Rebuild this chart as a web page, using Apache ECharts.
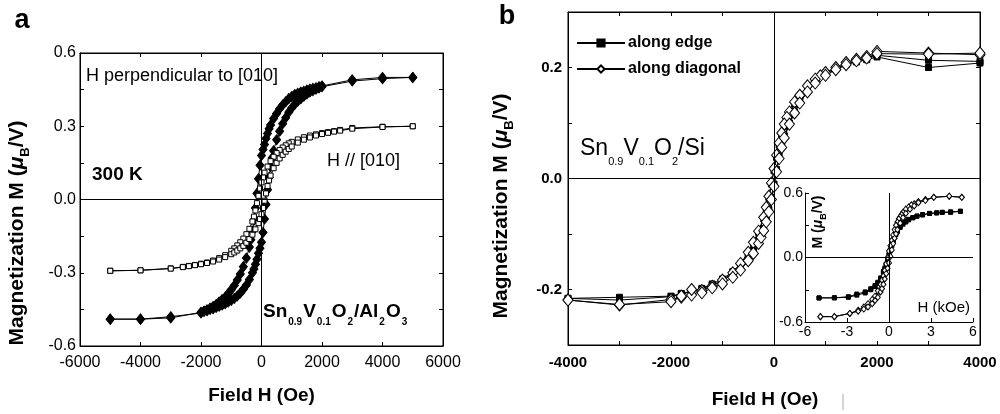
<!DOCTYPE html>
<html>
<head>
<meta charset="utf-8">
<script src="https://cdn.jsdelivr.net/npm/echarts@6/dist/echarts.min.js"></script>
<style>
html,body{margin:0;padding:0;background:#fff}
#chart{width:1000px;height:414px}
</style>
</head>
<body>
<div id="chart"></div>
<script>
// ---------- Panel a: Sn0.9V0.1O2/Al2O3, 300 K (H in Oe, M in muB/V) ----------
// H perpendicular to [010], field sweep down then up
const perpDown = [[5000,0.50],[4000,0.50],[3000,0.49],[2000,0.465],[1900,0.462],[1800,0.458],[1700,0.455],[1600,0.452],[1500,0.448],[1400,0.443],[1300,0.44],[1200,0.435],[1100,0.43],[1000,0.422],[900,0.413],[800,0.40],[700,0.387],[600,0.372],[500,0.352],[400,0.332],[300,0.305],[250,0.29],[200,0.27],[150,0.25],[100,0.225],[50,0.205],[0,0.18],[-50,0.14],[-100,0.085],[-150,0.025],[-200,-0.035],[-250,-0.085],[-300,-0.13],[-350,-0.165],[-400,-0.195],[-500,-0.24],[-600,-0.275],[-700,-0.305],[-800,-0.33],[-900,-0.352],[-1000,-0.37],[-1100,-0.385],[-1200,-0.40],[-1300,-0.41],[-1400,-0.42],[-1500,-0.43],[-1600,-0.438],[-1700,-0.445],[-1800,-0.452],[-1900,-0.458],[-2000,-0.465],[-3000,-0.48],[-4000,-0.49],[-5000,-0.49]];
const perpUp = [[-5000,-0.49],[-4000,-0.49],[-3000,-0.485],[-2000,-0.462],[-1900,-0.458],[-1800,-0.455],[-1700,-0.45],[-1600,-0.447],[-1500,-0.442],[-1400,-0.437],[-1300,-0.432],[-1200,-0.427],[-1100,-0.42],[-1000,-0.413],[-900,-0.405],[-800,-0.395],[-700,-0.383],[-600,-0.368],[-500,-0.35],[-400,-0.328],[-300,-0.30],[-250,-0.285],[-200,-0.265],[-150,-0.245],[-100,-0.22],[-50,-0.2],[0,-0.175],[50,-0.135],[100,-0.08],[150,-0.02],[200,0.04],[250,0.09],[300,0.135],[350,0.17],[400,0.20],[500,0.245],[600,0.28],[700,0.31],[800,0.335],[900,0.357],[1000,0.375],[1100,0.39],[1200,0.403],[1300,0.413],[1400,0.423],[1500,0.432],[1600,0.44],[1700,0.446],[1800,0.452],[1900,0.457],[2000,0.462],[3000,0.485],[4000,0.495],[5000,0.50]];
// H // [010]
const paraDown = [[5000,0.30],[4000,0.298],[3000,0.293],[2600,0.285],[2400,0.28],[2200,0.276],[2000,0.272],[1800,0.267],[1600,0.262],[1400,0.255],[1200,0.246],[1000,0.236],[900,0.23],[800,0.222],[700,0.213],[600,0.203],[500,0.19],[400,0.175],[300,0.157],[200,0.135],[100,0.11],[50,0.09],[0,0.07],[-50,0.045],[-100,0.015],[-150,-0.015],[-200,-0.045],[-250,-0.07],[-300,-0.09],[-400,-0.12],[-500,-0.142],[-600,-0.16],[-700,-0.175],[-800,-0.188],[-900,-0.2],[-1000,-0.21],[-1200,-0.228],[-1400,-0.24],[-1600,-0.25],[-1800,-0.258],[-2000,-0.263],[-2200,-0.268],[-2400,-0.272],[-2600,-0.276],[-3000,-0.282],[-4000,-0.29],[-5000,-0.292]];
const paraUp = [[-5000,-0.292],[-4000,-0.29],[-3000,-0.283],[-2600,-0.277],[-2400,-0.273],[-2200,-0.269],[-2000,-0.265],[-1800,-0.26],[-1600,-0.254],[-1400,-0.246],[-1200,-0.236],[-1000,-0.224],[-900,-0.217],[-800,-0.209],[-700,-0.2],[-600,-0.19],[-500,-0.177],[-400,-0.162],[-300,-0.144],[-200,-0.122],[-100,-0.097],[-50,-0.08],[0,-0.06],[50,-0.035],[100,-0.005],[150,0.025],[200,0.055],[250,0.078],[300,0.098],[400,0.128],[500,0.15],[600,0.168],[700,0.183],[800,0.196],[900,0.207],[1000,0.217],[1200,0.233],[1400,0.245],[1600,0.254],[1800,0.262],[2000,0.268],[2200,0.273],[2400,0.278],[2600,0.282],[3000,0.29],[4000,0.297],[5000,0.30]];

// ---------- Panel b: Sn0.9V0.1O2/Si ----------
const edgeDown = [[4000,0.211],[3000,0.213],[2000,0.222],[1800,0.216],[1600,0.212],[1400,0.206],[1200,0.198],[1000,0.19],[800,0.177],[650,0.165],[500,0.148],[400,0.135],[300,0.117],[200,0.094],[150,0.078],[100,0.06],[50,0.038],[0,0.014],[-50,-0.01],[-100,-0.034],[-150,-0.054],[-200,-0.072],[-300,-0.097],[-400,-0.117],[-500,-0.135],[-650,-0.154],[-800,-0.168],[-1000,-0.181],[-1200,-0.19],[-1400,-0.198],[-1600,-0.203],[-1800,-0.207],[-2000,-0.212],[-3000,-0.214],[-4000,-0.216]];
const edgeUp = [[-4000,-0.216],[-3000,-0.219],[-2000,-0.213],[-1800,-0.208],[-1600,-0.203],[-1400,-0.199],[-1200,-0.192],[-1000,-0.184],[-800,-0.173],[-650,-0.16],[-500,-0.143],[-400,-0.13],[-300,-0.112],[-200,-0.09],[-150,-0.074],[-100,-0.056],[-50,-0.034],[0,-0.01],[50,0.016],[100,0.04],[150,0.06],[200,0.077],[300,0.1],[400,0.12],[500,0.139],[650,0.159],[800,0.174],[1000,0.187],[1200,0.197],[1400,0.205],[1600,0.21],[1800,0.214],[2000,0.219],[3000,0.2],[4000,0.208]];
const diagDown = [[4000,0.223],[3000,0.226],[2000,0.229],[1800,0.22],[1600,0.215],[1400,0.209],[1200,0.2],[1000,0.191],[900,0.185],[800,0.179],[650,0.167],[500,0.15],[400,0.138],[300,0.12],[250,0.11],[200,0.098],[150,0.082],[100,0.064],[50,0.042],[0,0.018],[-50,-0.008],[-100,-0.032],[-150,-0.052],[-200,-0.07],[-300,-0.095],[-400,-0.115],[-500,-0.133],[-650,-0.153],[-800,-0.17],[-1000,-0.183],[-1200,-0.194],[-1400,-0.202],[-1600,-0.21],[-1800,-0.214],[-2000,-0.218],[-3000,-0.228],[-4000,-0.219]];
const diagUp = [[-4000,-0.219],[-3000,-0.227],[-2000,-0.222],[-1800,-0.212],[-1600,-0.2],[-1400,-0.206],[-1200,-0.197],[-1000,-0.19],[-800,-0.178],[-650,-0.165],[-500,-0.148],[-400,-0.135],[-300,-0.117],[-250,-0.106],[-200,-0.094],[-150,-0.078],[-100,-0.06],[-50,-0.038],[0,-0.014],[50,0.012],[100,0.036],[150,0.056],[200,0.073],[300,0.098],[400,0.118],[500,0.136],[650,0.156],[800,0.172],[1000,0.186],[1200,0.196],[1400,0.205],[1600,0.212],[1800,0.217],[2000,0.225],[3000,0.224],[4000,0.226]];

// ---------- Inset (H in kOe) ----------
const insetEdgeDown = [[5.1,0.43],[4.4,0.42],[3.8,0.42],[3.4,0.415],[2.9,0.41],[2.4,0.4],[2.0,0.385],[1.7,0.37],[1.4,0.35],[1.2,0.33],[1.0,0.31],[0.8,0.28],[0.6,0.24],[0.5,0.215],[0.4,0.19],[0.3,0.15],[0.2,0.11],[0.1,0.07],[0,0.03],[-0.1,-0.02],[-0.2,-0.07],[-0.3,-0.11],[-0.4,-0.14],[-0.6,-0.2],[-0.8,-0.24],[-1.0,-0.27],[-1.3,-0.3],[-1.7,-0.33],[-2.3,-0.35],[-2.9,-0.37],[-3.9,-0.375],[-5.0,-0.376]];
const insetEdgeUp = [[-5.0,-0.376],[-3.9,-0.375],[-2.9,-0.365],[-2.3,-0.34],[-1.7,-0.32],[-1.3,-0.29],[-1.0,-0.26],[-0.8,-0.23],[-0.6,-0.19],[-0.4,-0.13],[-0.3,-0.1],[-0.2,-0.06],[-0.1,-0.02],[0,0.02],[0.1,0.07],[0.2,0.12],[0.3,0.16],[0.4,0.2],[0.5,0.23],[0.6,0.255],[0.8,0.29],[1.0,0.32],[1.2,0.34],[1.4,0.355],[1.7,0.37],[2.0,0.385],[2.4,0.395],[2.9,0.41],[3.4,0.415],[3.8,0.42],[4.4,0.425],[5.1,0.43]];
const insetDiagDown = [[5.2,0.56],[4.3,0.57],[3.2,0.56],[2.6,0.54],[2.1,0.52],[1.8,0.5],[1.6,0.49],[1.4,0.47],[1.2,0.45],[1.0,0.42],[0.9,0.4],[0.8,0.38],[0.7,0.36],[0.6,0.33],[0.5,0.3],[0.4,0.26],[0.3,0.21],[0.2,0.16],[0.1,0.11],[0,0.06],[-0.1,0.0],[-0.2,-0.06],[-0.3,-0.12],[-0.4,-0.17],[-0.5,-0.21],[-0.6,-0.25],[-0.8,-0.31],[-1.0,-0.36],[-1.2,-0.39],[-1.5,-0.43],[-1.8,-0.46],[-2.2,-0.49],[-2.8,-0.52],[-3.9,-0.55],[-4.9,-0.55]];
const insetDiagUp = [[-4.9,-0.55],[-3.9,-0.55],[-2.8,-0.52],[-2.2,-0.5],[-1.8,-0.48],[-1.5,-0.46],[-1.2,-0.43],[-1.0,-0.4],[-0.8,-0.37],[-0.6,-0.32],[-0.5,-0.29],[-0.4,-0.25],[-0.3,-0.2],[-0.2,-0.15],[-0.1,-0.1],[0,-0.05],[0.1,0.01],[0.2,0.07],[0.3,0.13],[0.4,0.18],[0.5,0.22],[0.6,0.26],[0.8,0.32],[1.0,0.37],[1.2,0.41],[1.5,0.45],[1.8,0.48],[2.1,0.51],[2.6,0.53],[3.2,0.56],[4.3,0.57],[5.2,0.56]];

// Tick values that carry a label
const labelsAX = [-6000, -4000, -2000, 0, 2000, 4000, 6000];
const labelsAY = [-0.6, -0.3, 0, 0.3, 0.6];
const labelsBX = [-4000, -2000, 0, 2000, 4000];
const labelsBY = [-0.2, 0, 0.2];
const labelsInsetX = [-6, -3, 0, 3, 6];
const labelsInsetY = [-0.6, 0, 0.6];

const FONT = '"Liberation Sans", Arial, sans-serif';
const BLACK = '#000';

function pickLabel(list, digits) {
  return function (v) {
    for (const t of list) {
      if (Math.abs(v - t) < 1e-6) return (Math.abs(t) < 1e-9 ? 0 : t).toFixed(digits);
    }
    return '';
  };
}

function axisBase(gridIndex, min, max, interval, position, labelOpt) {
  return {
    type: 'value', gridIndex, min, max, interval, position,
    axisLine: { show: true, onZero: false, lineStyle: { color: BLACK, width: 1 } },
    axisTick: { show: true, inside: true, length: 4, lineStyle: { color: BLACK } },
    splitLine: { show: false },
    axisLabel: labelOpt ? Object.assign({ color: BLACK, fontFamily: FONT, showMinLabel: true, showMaxLabel: true }, labelOpt) : { show: false }
  };
}

const zeroLines = {
  silent: true, symbol: 'none', animation: false,
  label: { show: false },
  lineStyle: { color: BLACK, width: 1, type: 'solid' },
  emphasis: { disabled: true },
  data: [{ xAxis: 0 }, { yAxis: 0 }]
};

function loopSeries(name, xi, yi, down, up, symbol, size, filled, extra) {
  return Object.assign({
    name, type: 'line', xAxisIndex: xi, yAxisIndex: yi,
    data: down.concat(up),
    symbol, symbolSize: size, showSymbol: true, showAllSymbol: true,
    lineStyle: { color: BLACK, width: 1 },
    itemStyle: filled ? { color: BLACK, borderColor: BLACK, borderWidth: 1 }
                      : { color: '#fff', borderColor: BLACK, borderWidth: 1 },
    emphasis: { disabled: true },
    animation: false
  }, extra || {});
}

// Rotated "Magnetization M (muB/V)" titles
function mTitle(x, y, size) {
  return {
    type: 'text', x, y, rotation: Math.PI / 2,
    style: {
      text: '{t|Magnetization M (}{mu|μ}{sub|B}{t|/V)}',
      fontFamily: FONT, fontWeight: 'bold', fontSize: size, fill: BLACK, align: 'center', verticalAlign: 'middle',
      rich: {
        t: { fontFamily: FONT, fontWeight: 'bold', fontSize: size, fill: BLACK, lineHeight: size + 8, verticalAlign: 'middle' },
        mu: { fontFamily: FONT, fontWeight: 'bold', fontStyle: 'italic', fontSize: size, fill: BLACK, lineHeight: size + 8, verticalAlign: 'middle' },
        sub: { fontFamily: FONT, fontWeight: 'bold', fontSize: Math.round(size * 0.6), fill: BLACK, lineHeight: Math.round(size * 0.6), verticalAlign: 'bottom' }
      }
    }
  };
}

const chart = echarts.init(document.getElementById('chart'), null, { renderer: 'canvas' });

const option = {
  backgroundColor: '#fff',
  animation: false,
  grid: [
    { left: 80, top: 53, width: 363, height: 293, show: true, borderColor: BLACK, borderWidth: 1, backgroundColor: 'transparent' },
    { left: 568, top: 12, width: 412, height: 335, show: true, borderColor: BLACK, borderWidth: 1, backgroundColor: 'transparent' },
    { left: 805, top: 193, width: 168, height: 129, show: false }
  ],
  xAxis: [
    Object.assign(axisBase(0, -6000, 6000, 2000, 'bottom', { fontSize: 16, margin: 9, formatter: pickLabel(labelsAX, 0) }), {
      name: 'Field H (Oe)', nameLocation: 'middle', nameGap: 40,
      nameTextStyle: { fontFamily: FONT, fontWeight: 'bold', fontSize: 19, color: BLACK }
    }),
    axisBase(0, -6000, 6000, 2000, 'top', null),
    Object.assign(axisBase(1, -4000, 4000, 1000, 'bottom', { fontSize: 15, fontWeight: 'bold', margin: 10, formatter: pickLabel(labelsBX, 0) }), {
      name: 'Field H (Oe)', nameLocation: 'middle', nameGap: 45,
      nameTextStyle: { fontFamily: FONT, fontWeight: 'bold', fontSize: 19, color: BLACK, padding: [0, 18, 0, 0] }
    }),
    axisBase(1, -4000, 4000, 1000, 'top', null),
    axisBase(2, -6, 6, 3, 'bottom', { fontSize: 14, margin: 3, formatter: pickLabel(labelsInsetX, 0) })
  ],
  yAxis: [
    axisBase(0, -0.6, 0.6, 0.15, 'left', { fontSize: 16, margin: 4, formatter: pickLabel(labelsAY, 1) }),
    axisBase(0, -0.6, 0.6, 0.15, 'right', null),
    axisBase(1, -0.3, 0.3, 0.1, 'left', { fontSize: 15, fontWeight: 'bold', margin: 6, formatter: pickLabel(labelsBY, 1) }),
    axisBase(1, -0.3, 0.3, 0.1, 'right', null),
    axisBase(2, -0.6, 0.6, 0.3, 'left', { fontSize: 14, margin: 2, formatter: pickLabel(labelsInsetY, 1) })
  ],
  legend: {
    data: ['along edge', 'along diagonal'],
    orient: 'vertical', left: 571, top: 30,
    itemWidth: 48, itemHeight: 9, itemGap: 10,
    selectedMode: false,
    textStyle: { fontFamily: FONT, fontWeight: 'bold', fontSize: 16, color: BLACK, padding: [0, 0, 0, -2] }
  },
  series: [
    loopSeries('H perpendicular to [010]', 0, 0, perpDown, perpUp, 'diamond', [8, 10], true, { markLine: zeroLines }),
    loopSeries('H // [010]', 0, 0, paraDown, paraUp, 'rect', 5, false),
    loopSeries('along edge', 2, 2, edgeDown, edgeUp, 'rect', 6, true, { markLine: zeroLines }),
    loopSeries('along diagonal', 2, 2, diagDown, diagUp, 'diamond', [10, 12], false),
    loopSeries('inset edge', 4, 4, insetEdgeDown, insetEdgeUp, 'rect', 4, true, { markLine: zeroLines }),
    loopSeries('inset diagonal', 4, 4, insetDiagDown, insetDiagUp, 'diamond', [5, 6], false)
  ],
  graphic: [
    { type: 'text', x: 22, y: 21, style: { text: 'a', fontFamily: FONT, fontWeight: 'bold', fontSize: 27, fill: BLACK, align: 'center', verticalAlign: 'middle' } },
    { type: 'text', x: 507, y: 17, style: { text: 'b', fontFamily: FONT, fontWeight: 'bold', fontSize: 27, fill: BLACK, align: 'center', verticalAlign: 'middle' } },
    mTitle(17, 233, 21),
    mTitle(501, 206, 21),
    { type: 'text', x: 86, y: 76, style: { text: 'H perpendicular to [010]', fontFamily: FONT, fontSize: 18, fill: BLACK, align: 'left', verticalAlign: 'middle' } },
    { type: 'text', x: 327, y: 161, style: { text: 'H // [010]', fontFamily: FONT, fontSize: 18, fill: BLACK, align: 'left', verticalAlign: 'middle' } },
    { type: 'text', x: 92, y: 175, style: { text: '300 K', fontFamily: FONT, fontWeight: 'bold', fontSize: 19, fill: BLACK, align: 'left', verticalAlign: 'middle' } },
    { type: 'text', x: 263, y: 312, style: {
        text: '{m|Sn}{s|0.9}{m|V}{s|0.1}{m|O}{s|2}{m|/Al}{s|2}{m|O}{s|3}',
        fontFamily: FONT, fontWeight: 'bold', fontSize: 19, fill: BLACK, align: 'left', verticalAlign: 'middle',
        rich: {
          m: { fontFamily: FONT, fontWeight: 'bold', fontSize: 19, fill: BLACK, lineHeight: 30, verticalAlign: 'middle' },
          s: { fontFamily: FONT, fontWeight: 'bold', fontSize: 10, fill: BLACK, lineHeight: 10, verticalAlign: 'bottom', padding: [0, 1, 0, 1] }
        } } },
    { type: 'text', x: 580, y: 149, style: {
        text: '{m|Sn}{s|0.9}{m|V}{s|0.1}{m|O}{s|2}{m|/Si}',
        fontFamily: FONT, fontSize: 23, fill: BLACK, align: 'left', verticalAlign: 'middle',
        rich: {
          m: { fontFamily: FONT, fontSize: 23, fill: BLACK, lineHeight: 36, verticalAlign: 'middle' },
          s: { fontFamily: FONT, fontSize: 11, fill: BLACK, lineHeight: 11, verticalAlign: 'bottom' }
        } } },
    { type: 'text', x: 970, y: 308, style: { text: 'H (kOe)', fontFamily: FONT, fontSize: 15, fill: BLACK, align: 'right', verticalAlign: 'middle' } },
    { type: 'text', x: 818, y: 222, rotation: Math.PI / 2, style: {
        text: '{t|M (}{mu|μ}{sub|B}{t|/V)}',
        fontFamily: FONT, fontWeight: 'bold', fontSize: 14, fill: BLACK, align: 'center', verticalAlign: 'middle',
        rich: {
          t: { fontFamily: FONT, fontWeight: 'bold', fontSize: 14, fill: BLACK, lineHeight: 20, verticalAlign: 'middle' },
          mu: { fontFamily: FONT, fontWeight: 'bold', fontStyle: 'italic', fontSize: 14, fill: BLACK, lineHeight: 20, verticalAlign: 'middle' },
          sub: { fontFamily: FONT, fontWeight: 'bold', fontSize: 9, fill: BLACK, lineHeight: 9, verticalAlign: 'bottom' }
        } } },
    { type: 'line', shape: { x1: 843, y1: 394, x2: 843, y2: 410 }, style: { stroke: '#aaa', lineWidth: 1 } }
  ]
};

chart.setOption(option);
</script>
</body>
</html>
